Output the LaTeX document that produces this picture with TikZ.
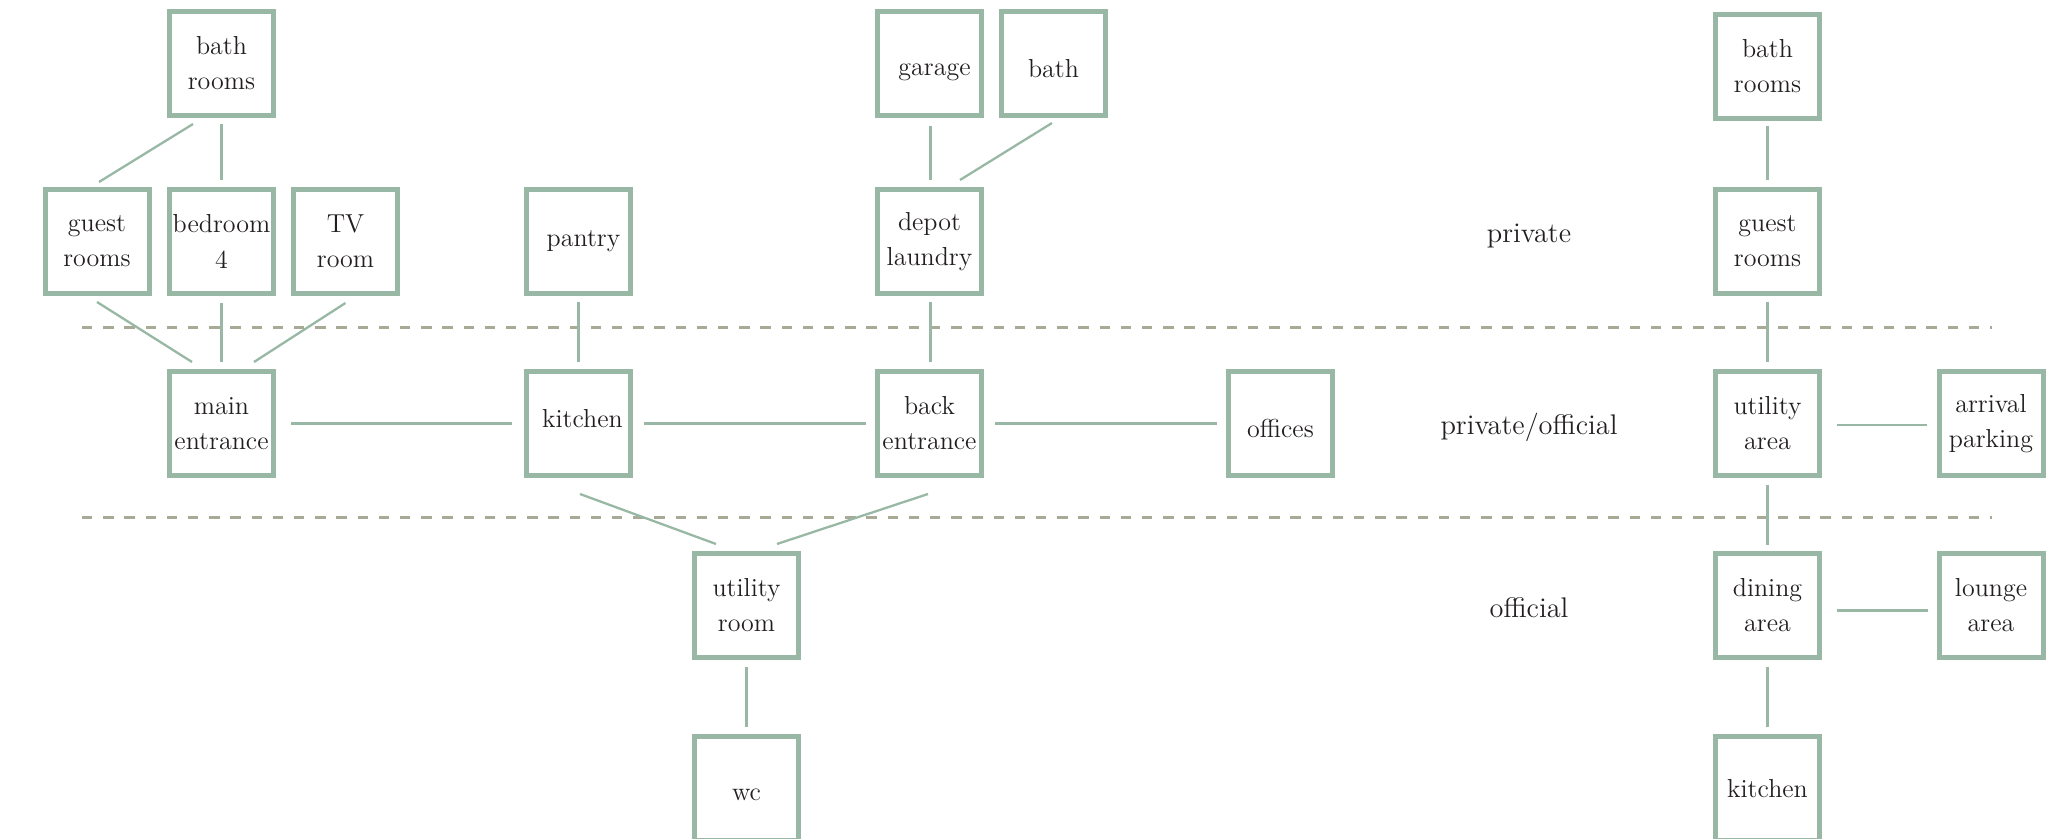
\documentclass[tikz,border=0pt]{standalone}
\usetikzlibrary{calc}
\definecolor{sage}{HTML}{98B8A5}
\definecolor{zoneline}{HTML}{A8AA95}
\definecolor{ink}{HTML}{231F20}
% move a single-line room name inside its box (x right, y up), keeping its box size
\newcommand{\nudge}[3]{\hspace*{#1}\raisebox{#2}[\height][\depth]{#3}}
\begin{document}
\begin{tikzpicture}[x=0.5pt,y=-0.5pt,
  room/.style={draw=sage, line width=2.5pt, fill=white, minimum width=52pt,
    minimum height=52pt, inner sep=0pt, align=center, text=ink,
    font=\fontsize{13pt}{17.6pt}\selectfont},
  zone/.style={text=ink, font=\fontsize{14.2pt}{17pt}\selectfont},
  link/.style={draw=sage, line width=1.15pt},
  divider/.style={draw=zoneline, line width=1.5pt, dash pattern=on 5.15pt off 5.45pt}]
\clip (0,0) rectangle (2070,839);

% zone dividers
\coordinate (d1s) at (82,328);   \coordinate (d1e) at (1992,328);
\coordinate (d2s) at (82,517);   \coordinate (d2e) at (1992,517);
\draw[divider] (d1s) -- (d1e);
\draw[divider] (d2s) -- (d2e);

% left wing
\node[room] (bathL)  at (221.5,63.5)  {bath\\rooms};
\node[room] (guestL) at (97,241.5)    {guest\\rooms};
\node[room] (bed)    at (221.5,241.5) {bedroom\\4};
\node[room] (tv)     at (345.5,241.5) {TV\\room};
\node[room] (mainE)  at (221.5,423.5) {main\\entrance};

% service wing
\node[room] (pantry)   at (578.5,241.5) {\nudge{5pt}{0pt}{pantry}};
\node[room] (kitchenM) at (578.5,423.5) {\nudge{4pt}{2.5pt}{kitchen}};
\node[room] (garage)   at (929.5,63.5)  {\nudge{5pt}{-4.5pt}{garage}};
\node[room] (bathM)    at (1053.5,63.5) {\nudge{0pt}{-2.5pt}{bath}};
\node[room] (depot)    at (929.5,241.5) {depot\\laundry};
\node[room] (backE)    at (929.5,423.5) {back\\entrance};
\node[room] (offices)  at (1280.5,423.5) {\nudge{0pt}{-2.5pt}{offices}};
\node[room] (utilR)    at (746.5,605.5) {utility\\room};
\node[room] (wc)       at (746.5,788.5) {\nudge{0pt}{-3pt}{wc}};

% zone labels
\node[zone] (zPriv) at (1529,236) {private};
\node[zone] (zMix)  at (1529,427) {private/official};
\node[zone] (zOff)  at (1529,608) {official};

% guest wing
\node[room] (bathR)    at (1767.5,66.5)  {bath\\rooms};
\node[room] (guestR)   at (1767.5,241.5) {guest\\rooms};
\node[room] (utilA)    at (1767.5,423.5) {utility\\area};
\node[room] (arrival)  at (1991,423.5)   {arrival\\parking};
\node[room] (dining)   at (1767.5,605.5) {dining\\area};
\node[room] (lounge)   at (1991,605.5)   {lounge\\area};
\node[room] (kitchenR) at (1767.5,788.5) {kitchen};

% connections, left wing
\draw[link] ($(bathL.south)+(-28.5,6)$) -- ($(guestL.north)+(2,-5)$);
\draw[link] ($(bathL.south)+(0,6)$) -- ($(bed.north)+(0,-7)$);
\draw[link] ($(guestL.south)+(0,6)$) -- ($(mainE.north)+(-29.5,-7)$);
\draw[link] ($(bed.south)+(0,7)$) -- ($(mainE.north)+(0,-7)$);
\draw[link] ($(tv.south)+(0,7)$) -- ($(mainE.north)+(32.5,-7)$);
\draw[link] ($(mainE.east)+(15,0)$) -- ($(kitchenM.west)+(-12,0)$);

% connections, service wing
\draw[link] ($(pantry.south)+(0,6)$) -- ($(kitchenM.north)+(0,-7)$);
\draw[link] ($(kitchenM.east)+(11,0)$) -- ($(backE.west)+(-9,0)$);
\draw[link] ($(garage.south)+(1,8)$) -- ($(depot.north)+(1,-7)$);
\draw[link] ($(bathM.south)+(-1.5,5)$) -- ($(depot.north)+(30.5,-7)$);
\draw[link] ($(depot.south)+(1,6)$) -- ($(backE.north)+(1,-7)$);
\draw[link] ($(backE.east)+(11,0)$) -- ($(offices.west)+(-9,0)$);
\draw[link] ($(kitchenM.south)+(1.5,16)$) -- ($(utilR.north)+(-30.5,-7)$);
\draw[link] ($(backE.south)+(-1.5,16)$) -- ($(utilR.north)+(30.5,-7)$);
\draw[link] ($(utilR.south)+(0,7)$) -- ($(wc.north)+(0,-7)$);

% connections, guest wing
\draw[link] ($(bathR.south)+(0,5)$) -- ($(guestR.north)+(0,-7)$);
\draw[link] ($(guestR.south)+(0,6)$) -- ($(utilA.north)+(0,-7)$);
\draw[link] ($(utilA.east)+(15,1.5)$) -- ($(arrival.west)+(-10,1.5)$);
\draw[link] ($(utilA.south)+(0,7)$) -- ($(dining.north)+(0,-6)$);
\draw[link] ($(dining.east)+(15,5)$) -- ($(lounge.west)+(-9,5)$);
\draw[link] ($(dining.south)+(0,7)$) -- ($(kitchenR.north)+(0,-7)$);
\end{tikzpicture}
\end{document}
